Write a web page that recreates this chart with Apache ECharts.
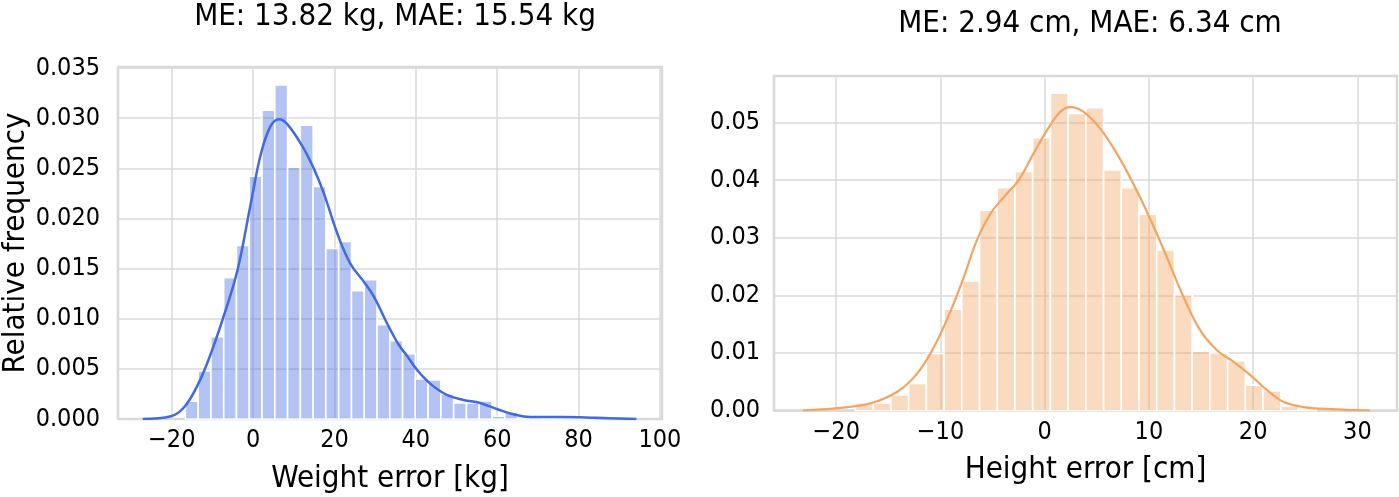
<!DOCTYPE html>
<html>
<head>
<meta charset="utf-8">
<script src="https://cdn.jsdelivr.net/npm/echarts@6/dist/echarts.min.js"></script>
<style>
html,body{margin:0;padding:0;background:#fff;}
#chart{width:1399px;height:497px;}
</style>
</head>
<body>
<div id="chart"></div>
<script>
// ---- Data ----
const weightTitle = 'ME: 13.82 kg, MAE: 15.54 kg';
const heightTitle = 'ME: 2.94 cm, MAE: 6.34 cm';
const weightXName = 'Weight error [kg]';
const heightXName = 'Height error [cm]';
const yName = 'Relative frequency';

// Weight histogram: first bin edge, bin width, relative frequencies
const weightBinStart = -16.64;
const weightBinWidth = 3.14;
const weightHist = [0.00177, 0.0048, 0.0082, 0.0141, 0.0173, 0.0242, 0.0308, 0.0333,
  0.0251, 0.0293, 0.0232, 0.0170, 0.0177, 0.0128, 0.0139, 0.0094, 0.0078, 0.0065,
  0.0040, 0.0039, 0.0025, 0.0016, 0.0016, 0.0018, 0.00027, 0.00067, 0, 0, 0.0001, 0, 0, 0.0001];

// Weight KDE curve points [x, density]
const weightKdeX = [-27.1, -20.2, -16.9, -13.6, -10.4, -7.1, -3.8, -0.56, 1.9, 4.3, 6.4, 8.4,
  12.1, 15.0, 17.4, 20.7, 23.9, 27.2, 29.7, 32.6, 35.5, 38.0, 40.3, 43.6, 47.6, 51.7, 55.8,
  59.9, 64.0, 68.1, 76.2, 84.4, 94.2];
const weightKdeY = [0, 0.00027, 0.0012, 0.0034, 0.0065, 0.0104, 0.0149, 0.0215, 0.0264, 0.0292,
  0.0299, 0.0294, 0.0272, 0.0249, 0.0225, 0.0185, 0.0155, 0.0137, 0.0122, 0.0098, 0.0076, 0.0062,
  0.0049, 0.0035, 0.0024, 0.0019, 0.0016, 0.0010, 0.00047, 0.0002, 0.0002, 0.00012, 0];

// Height histogram
const heightBinStart = -18.15;
const heightBinWidth = 1.70;
const heightHist = [0.0013, 0.0013, 0.0027, 0.0047, 0.0099, 0.0176, 0.0225, 0.0348, 0.0387,
  0.0415, 0.0474, 0.0551, 0.0516, 0.0526, 0.0418, 0.0387, 0.0341, 0.0279, 0.0201, 0.0103,
  0.0100, 0.0086, 0.0044, 0.0034, 0.0008, 0.0003];

// Height KDE curve points
const heightKdeX = [-23.2, -19.9, -16.7, -14.1, -12.2, -10.6, -9.0, -7.75, -6.5, -5.2, -3.9,
  -2.5, -1.05, 0.23, 1.5, 2.46, 3.7, 5.3, 6.9, 8.5, 10.1, 11.7, 13.3, 14.9, 16.5, 18.1, 19.7,
  21.3, 22.9, 24.8, 28.0, 31.2];
const heightKdeY = [0, 0.0004, 0.00125, 0.0033, 0.0065, 0.0111, 0.0174, 0.0232, 0.0296, 0.0342,
  0.0371, 0.0400, 0.0447, 0.0487, 0.0519, 0.0527, 0.0519, 0.0490, 0.0447, 0.0394, 0.0334,
  0.0267, 0.0198, 0.0140, 0.0105, 0.0085, 0.0062, 0.0036, 0.0015, 0.0006, 0.0002, 0];

// Axis tick settings
const weightXTicks = {min: -33.2, max: 100.5, step: 20};
const heightXTicks = {min: -25.97, max: 33.8, step: 10};
const weightYTicks = {min: 0, max: 0.0351, step: 0.005, digits: 3};
const heightYTicks = {min: 0, max: 0.0581, step: 0.01, digits: 2};

// ---- Chart ----
const FONT = "'DejaVu Sans Condensed', 'DejaVu Sans', sans-serif";
const gridColor = '#dadada';
const BIG = 31;
const TICK = 25;

function binData(start, width, vals) {
  return vals.map((h, i) => [start + i * width, start + (i + 1) * width, h]);
}
function pairs(xs, ys) { return xs.map((x, i) => [x, ys[i]]); }
function isTick(v, step) { const r = v / step; return Math.abs(r - Math.round(r)) < 1e-6; }
function xFmt(step) {
  return v => isTick(v, step) ? String(Math.round(v)).replace('-', '\u2212') : '';
}
function yFmt(step, digits) {
  return v => isTick(v, step) ? v.toFixed(digits) : '';
}
function histRender(fill) {
  return function (params, api) {
    const p0 = api.coord([api.value(0), api.value(2)]);
    const p1 = api.coord([api.value(1), 0]);
    return {
      type: 'rect',
      shape: {x: p0[0], y: p0[1], width: p1[0] - p0[0], height: p1[1] - p0[1]},
      style: {fill: fill, stroke: '#ffffff', lineWidth: 1.6}
    };
  };
}
function xAxis(idx, t, name, gap) {
  return {
    type: 'value', gridIndex: idx, min: t.min, max: t.max,
    minInterval: t.step, maxInterval: t.step, splitNumber: 6,
    name: name, nameLocation: 'middle', nameGap: gap,
    nameTextStyle: {fontFamily: FONT, fontSize: BIG, color: '#000'},
    axisLine: {show: false}, axisTick: {show: false},
    axisLabel: {fontFamily: FONT, fontSize: TICK, color: '#000', margin: 9, formatter: xFmt(t.step)},
    splitLine: {show: true, lineStyle: {color: gridColor, width: 1.5}}
  };
}
function yAxis(idx, t, name, margin) {
  return {
    type: 'value', gridIndex: idx, min: t.min, max: t.max,
    minInterval: t.step, maxInterval: t.step, splitNumber: 7,
    name: name, nameLocation: 'middle', nameGap: 86,
    nameTextStyle: {fontFamily: FONT, fontSize: BIG, color: '#000'},
    axisLine: {show: false}, axisTick: {show: false},
    axisLabel: {fontFamily: FONT, fontSize: TICK, color: '#000', margin: margin, formatter: yFmt(t.step, t.digits)},
    splitLine: {show: true, lineStyle: {color: gridColor, width: 1.5}}
  };
}

const chart = echarts.init(document.getElementById('chart'), null, {renderer: 'canvas'});
chart.setOption({
  animation: false,
  backgroundColor: '#ffffff',
  title: [
    {text: weightTitle, left: 390, top: -4, textAlign: 'center',
     textStyle: {fontFamily: FONT, fontSize: BIG, fontWeight: 'normal', color: '#000'}},
    {text: heightTitle, left: 1085, top: 3, textAlign: 'center',
     textStyle: {fontFamily: FONT, fontSize: BIG, fontWeight: 'normal', color: '#000'}}
  ],
  grid: [
    {left: 118, top: 67, width: 544, height: 352, show: true, borderColor: '#d6d6d6', borderWidth: 2.5,
     backgroundColor: 'transparent', containLabel: false, outerBoundsMode: 'none'},
    {left: 774, top: 76, width: 623, height: 334.5, show: true, borderColor: '#d6d6d6', borderWidth: 2.5,
     backgroundColor: 'transparent', containLabel: false, outerBoundsMode: 'none'}
  ],
  xAxis: [xAxis(0, weightXTicks, weightXName, 44), xAxis(1, heightXTicks, heightXName, 44)],
  yAxis: [yAxis(0, weightYTicks, yName, 18), Object.assign(yAxis(1, heightYTicks, '', 14), {name: ''})],
  series: [
    {type: 'custom', xAxisIndex: 0, yAxisIndex: 0, renderItem: histRender('rgba(65,105,225,0.4)'),
     encode: {x: [0, 1], y: 2}, data: binData(weightBinStart, weightBinWidth, weightHist), z: 2},
    {type: 'line', xAxisIndex: 0, yAxisIndex: 0, smooth: 0.4, showSymbol: false, symbol: 'none',
     lineStyle: {color: '#4169E1', width: 2.5}, data: pairs(weightKdeX, weightKdeY), z: 3},
    {type: 'custom', xAxisIndex: 1, yAxisIndex: 1, renderItem: histRender('rgba(244,164,96,0.4)'),
     encode: {x: [0, 1], y: 2}, data: binData(heightBinStart, heightBinWidth, heightHist), z: 2},
    {type: 'line', xAxisIndex: 1, yAxisIndex: 1, smooth: 0.4, showSymbol: false, symbol: 'none',
     lineStyle: {color: '#F4A460', width: 2.2}, data: pairs(heightKdeX, heightKdeY), z: 3}
  ]
});
</script>
</body>
</html>
